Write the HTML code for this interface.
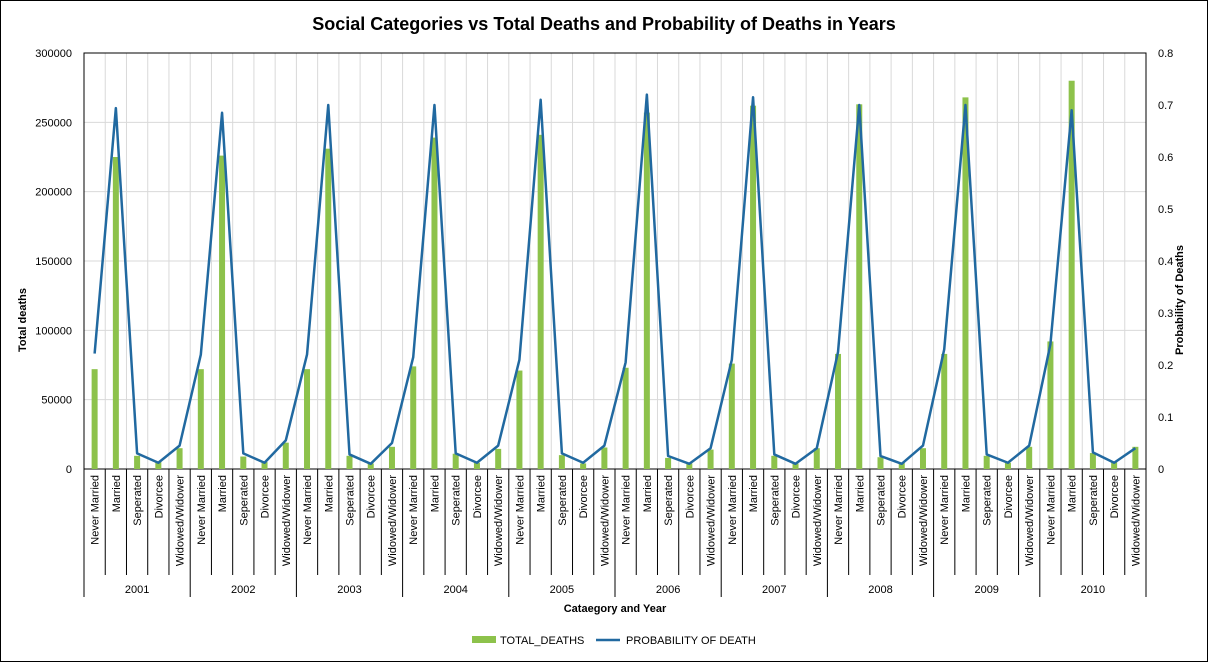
<!DOCTYPE html>
<html><head><meta charset="utf-8"><style>
body{margin:0;background:#fff;font-family:"Liberation Sans",sans-serif}
svg text{font-family:"Liberation Sans",sans-serif}
</style></head><body>
<svg id="c" width="1208" height="662" xmlns="http://www.w3.org/2000/svg">
<rect x="0.5" y="0.5" width="1207" height="661" fill="#fff" stroke="#000"/>
<text x="604" y="30" text-anchor="middle" font-size="18" font-weight="bold">Social Categories vs Total Deaths and Probability of Deaths in Years</text>
<text transform="translate(26,320) rotate(-90)" text-anchor="middle" font-size="11" font-weight="bold">Total deaths</text>
<text transform="translate(1183,300) rotate(-90)" text-anchor="middle" font-size="11" font-weight="bold">Probability of Deaths</text>
<text x="615" y="612" text-anchor="middle" font-size="11" font-weight="bold">Cataegory and Year</text>
<g>
<rect x="472" y="636" width="24" height="7" fill="#8dc24b"/>
<text x="500" y="644" font-size="11">TOTAL_DEATHS</text>
<line x1="596" y1="640" x2="620" y2="640" stroke="#2169a0" stroke-width="2.5"/>
<text x="626" y="644" font-size="11">PROBABILITY OF DEATH</text>
</g>
<g id="plot"></g>
</svg>
<script>
const years=["2001","2002","2003","2004","2005","2006","2007","2008","2009","2010"];
const cats=["Never Married","Married","Seperated","Divorcee","Widowed/Widower"];
const deaths=[72000,225000,9500,5000,15000, 72000,226000,9000,5000,19000, 72000,231000,9500,4000,16000, 74000,239000,11000,4500,14500, 71000,241000,10000,4000,15500, 73000,257000,8000,4000,14000, 76000,262000,9500,4000,15000, 83000,263000,8500,4500,15000, 83000,268000,9500,4500,16000, 92000,280000,11500,5000,16000];
const prob=[0.222,0.694,0.03,0.012,0.045, 0.22,0.685,0.03,0.012,0.055, 0.22,0.70,0.028,0.01,0.05, 0.215,0.70,0.03,0.012,0.045, 0.21,0.71,0.03,0.012,0.045, 0.205,0.72,0.025,0.01,0.04, 0.21,0.715,0.028,0.01,0.04, 0.225,0.70,0.025,0.01,0.045, 0.23,0.70,0.028,0.012,0.045, 0.24,0.69,0.032,0.012,0.04];
const leftTicks=[0,50000,100000,150000,200000,250000,300000];
const rightTicks=[0,0.1,0.2,0.3,0.4,0.5,0.6,0.7,0.8];
const NS="http://www.w3.org/2000/svg";
const L=84,R=1146,T=53,B=469;
const n=years.length*cats.length, cw=(R-L)/n;
const yL=v=>B-v/300000*(B-T), yR=v=>B-v/0.8*(B-T), xC=i=>L+cw*(i+0.5);
const g=document.getElementById('plot');
function mk(t,a){const e=document.createElementNS(NS,t);for(const k in a)e.setAttribute(k,a[k]);g.appendChild(e);return e;}
for(let i=1;i<n;i++){const e=mk('line',{x1:L+cw*i,x2:L+cw*i,y1:T,y2:B,stroke:'#d9d9d9'});

}
leftTicks.forEach(v=>{const y=yL(v);
const e=mk('line',{x1:L,x2:R,y1:y,y2:y,stroke:'#d9d9d9'});


const t=mk('text',{x:L-12,y:y+4,'text-anchor':'end','font-size':11});t.textContent=v;

});
rightTicks.forEach(v=>{const t=mk('text',{x:R+12,y:yR(v)+4,'font-size':11});t.textContent=+v.toFixed(1);

});
const fr=mk('rect',{x:L,y:T,width:R-L,height:B-T,fill:'none',stroke:'#000'});


deaths.forEach((v,i)=>{const r=mk('rect',{x:xC(i)-3,y:yL(v),width:6,height:B-yL(v),fill:'#8dc24b'});

});
const ln=mk('polyline',{points:prob.map((v,i)=>xC(i)+','+yR(v)).join(' '),fill:'none',stroke:'#2169a0','stroke-width':2.5,'stroke-linejoin':'round'});


for(let i=0;i<=n;i++){const yr=i%5===0;
const e=mk('line',{x1:L+cw*i,x2:L+cw*i,y1:B,y2:yr?597:575,stroke:'#000'});

}
for(let i=0;i<n;i++){const x=xC(i)+4;
const t=mk('text',{transform:`translate(${x},${B+6}) rotate(-90)`,'text-anchor':'end','font-size':11});t.textContent=cats[i%5];

}
years.forEach((y,j)=>{const t=mk('text',{x:L+cw*(j*5+2.5),y:593,'text-anchor':'middle','font-size':11});t.textContent=y;

});
</script>
</body></html>
